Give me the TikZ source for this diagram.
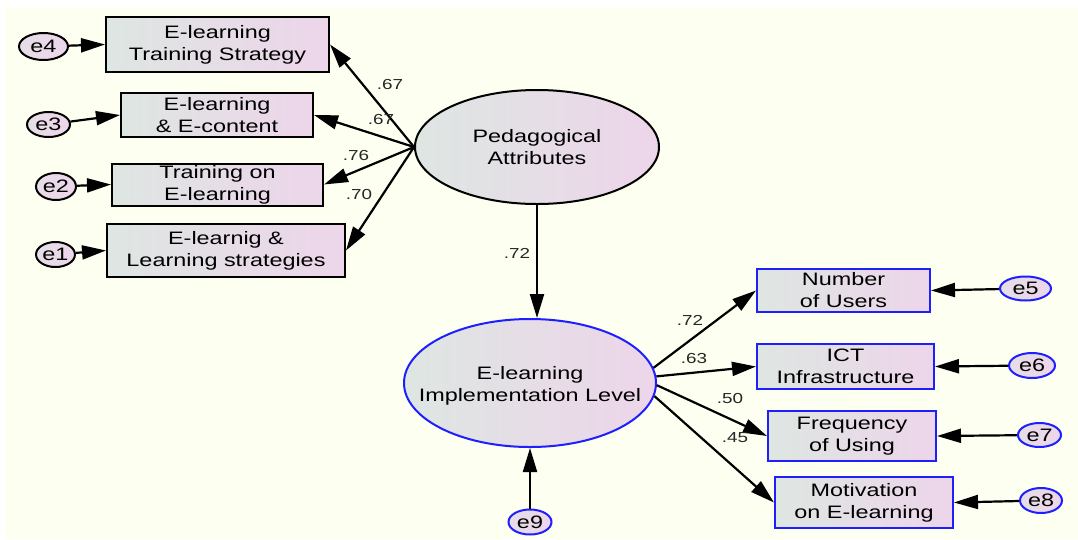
\documentclass[tikz,border=0pt]{standalone}
\usepackage{fontspec}
\setmainfont[FakeStretch=1.3]{Liberation Sans}
\usetikzlibrary{shapes.geometric,arrows.meta}
\definecolor{bgivory}{RGB}{253,255,240}
\definecolor{fillA}{RGB}{222,230,226}
\definecolor{fillB}{RGB}{237,213,234}
\definecolor{amosblue}{RGB}{30,30,255}
\begin{document}
\begin{tikzpicture}[x=1pt,y=-1pt,
  txt/.style={font=\fontsize{18}{22}\selectfont},
  obs/.style={rectangle, draw=black, line width=2pt, left color=fillA, right color=fillB,
              inner sep=0pt, align=center, txt},
  obsb/.style={obs, draw=amosblue},
  lat/.style={ellipse, draw=black, line width=2pt, left color=fillA, right color=fillB,
              inner sep=0pt, align=center, txt},
  latb/.style={lat, draw=amosblue},
  err/.style={ellipse, draw=black, line width=2pt, left color=fillA!50!fillB, right color=fillB,
              inner sep=0pt, txt},
  errb/.style={err, draw=amosblue},
  pathline/.style={line width=2.2pt, -{Triangle[length=24pt,width=14pt]}},
  coef/.style={font=\fontsize{14.5}{16}\selectfont, text=black!85}]

% canvas
\useasboundingbox (0,0) rectangle (1078,539);
\fill[white] (0,0) rectangle (1078,539);
\fill[bgivory] (5,7) rectangle (1078,539);

% exogenous latent and its indicators
\node[lat, minimum width=244pt, minimum height=114pt] (ped) at (537,147) {Pedagogical\\Attributes};

\node[obs, minimum width=223pt, minimum height=55pt] (b1) at (217.5,44.5) {E-learning\\Training Strategy};
\node[obs, minimum width=192pt, minimum height=44pt] (b2) at (217,115) {E-learning\\\& E-content};
\node[obs, minimum width=211pt, minimum height=42pt] (b3) at (217.5,184.5) {Training on\\E-learning};
\node[obs, minimum width=238pt, minimum height=53pt] (b4) at (226,250.5) {E-learnig \&\\Learning strategies};

\node[err, minimum width=49pt, minimum height=27pt] (e4) at (43.5,46.5) {e4};
\node[err, minimum width=43pt, minimum height=25pt] (e3) at (48.5,124.5) {e3};
\node[err, minimum width=40pt, minimum height=27pt] (e2) at (56,186.5) {e2};
\node[err, minimum width=39pt, minimum height=25pt] (e1) at (55.5,254.5) {e1};

% endogenous latent and its indicators
\node[latb, minimum width=252pt, minimum height=128pt,
      label={[txt, align=center, yshift=-3pt]center:E-learning\\Implementation Level}] (impl) at (530,383) {};
\node[errb, minimum width=43pt, minimum height=25pt] (e9) at (530,522) {e9};

\node[obsb, minimum width=173pt, minimum height=43pt] (n1) at (843.5,290.5) {Number\\of Users};
\node[obsb, minimum width=177pt, minimum height=45pt] (n2) at (845.5,366.5) {ICT\\Infrastructure};
\node[obsb, minimum width=168pt, minimum height=50pt] (n3) at (852,436) {Frequency\\of Using};
\node[obsb, minimum width=178pt, minimum height=51pt] (n4) at (864,502.5) {Motivation\\on E-learning};

\node[errb, minimum width=51pt, minimum height=24pt] (e5) at (1025.5,288.5) {e5};
\node[errb, minimum width=46pt, minimum height=25pt] (e6) at (1032,365.5) {e6};
\node[errb, minimum width=43pt, minimum height=24pt] (e7) at (1039.5,435) {e7};
\node[errb, minimum width=42pt, minimum height=25pt] (e8) at (1041,500.5) {e8};

% loadings of the exogenous latent
\coordinate (pedL) at (ped.west);
\draw[pathline] (pedL) -- (b1.east);
\draw[pathline] (pedL) -- (b2.east);
\draw[pathline] (pedL) -- (b3.east);
\draw[pathline] (pedL) -- (b4.east);

% structural path and disturbance
\draw[pathline] (ped.south) -- (impl.north -| ped.south);
\draw[pathline] (e9.north) -- (impl.south);

% loadings of the endogenous latent
\draw[pathline] (impl.7) -- (n1.west);
\draw[pathline] (impl.3) -- (n2.west);
\draw[pathline] (impl.-1) -- (n3.west);
\draw[pathline] (impl.-6) -- (n4.west);

% measurement errors
\draw[pathline] (e4) -- (b1.west);
\draw[pathline] (e3) -- (b2.west);
\draw[pathline] (e2) -- (b3.west);
\draw[pathline] (e1) -- (b4.west);
\draw[pathline] (e5) -- (n1.east);
\draw[pathline] (e6) -- (n2.east);
\draw[pathline] (e7) -- (n3.east);
\draw[pathline] (e8) -- (n4.east);

% standardized coefficients
\node[coef] (c1) at (390,85) {.67};
\node[coef] (c2) at (381,120) {.67};
\node[coef] (c3) at (356,156) {.76};
\node[coef] (c4) at (359,195) {.70};
\node[coef] (c5) at (517,253) {.72};
\node[coef] (c6) at (690,320) {.72};
\node[coef] (c7) at (694,358) {.63};
\node[coef] (c8) at (730,398) {.50};
\node[coef] (c9) at (735,438) {.45};
\end{tikzpicture}
\end{document}
